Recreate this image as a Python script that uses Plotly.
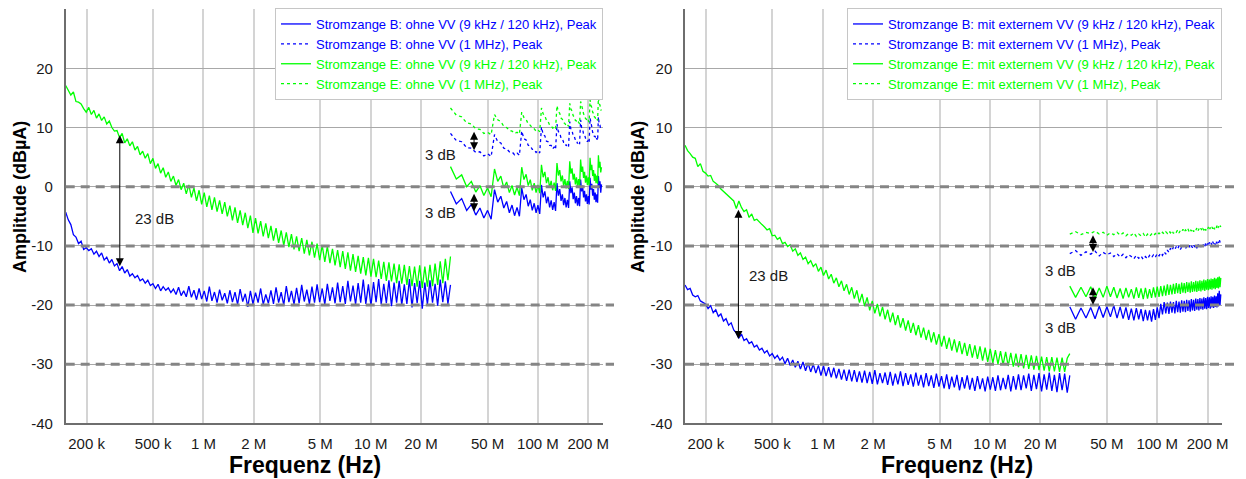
import numpy as np
import plotly.graph_objects as go

# ---------------- data ----------------
# low-frequency sweep (150 kHz .. 30 MHz), 151 log-spaced points
f_lf = np.geomspace(1.5e5, 3.0e7, 151)
# high-frequency sweep (30 MHz .. 240 MHz), 2.5 MHz steps
f_hf = np.arange(30e6, 240e6 + 1, 2.5e6)

# Left chart: ohne VV
b_ohne_lf = [
    -4.3, -5.6, -6.4, -8.1, -8.5, -9.6, -9.2, -10.6, -10.3, -10.8,
    -10.5, -11.4, -10.9, -11.8, -11.2, -12.4, -11.9, -12.9, -12.3, -13.4,
    -13.0, -14.2, -13.5, -14.6, -14.0, -15.1, -14.7, -15.4, -15.0, -15.9,
    -15.6, -16.3, -15.8, -16.7, -16.4, -17.2, -16.5, -17.6, -16.9, -17.5,
    -17.1, -17.9, -17.3, -18.2, -17.0, -18.4, -17.6, -18.6, -16.8, -18.7,
    -17.5, -19.1, -17.2, -19.0, -17.6, -19.4, -16.9, -19.3, -17.8, -19.6,
    -17.4, -19.2, -18.0, -19.7, -17.5, -19.5, -17.8, -19.9, -17.3, -19.4,
    -18.1, -20.3, -17.6, -19.8, -17.9, -19.6, -17.2, -19.9, -18.2, -19.7,
    -17.5, -19.8, -17.0, -19.6, -17.8, -20.0, -16.8, -19.5, -17.6, -19.9,
    -17.1, -19.7, -16.6, -19.4, -17.4, -19.8, -16.9, -19.6, -16.5, -19.5,
    -17.2, -19.9, -16.4, -19.3, -17.0, -19.7, -16.2, -19.5, -16.8, -19.8,
    -15.9, -19.4, -16.7, -19.9, -16.3, -19.6, -15.7, -19.8, -16.5, -20.1,
    -16.1, -19.5, -15.6, -19.9, -16.4, -19.7, -15.8, -20.2, -16.2, -19.6,
    -15.9, -20.0, -16.5, -19.8, -15.6, -20.4, -16.3, -19.7, -15.9, -20.6,
    -16.2, -19.9, -15.8, -19.6, -16.4, -20.1, -15.7, -19.5, -16.0, -19.8,
    -16.6,
]
e_ohne_lf = [
    17.1, 16.2, 15.5, 16.0, 14.4, 14.3, 14.0, 13.2, 12.6, 13.4,
    12.2, 12.9, 11.6, 12.3, 11.2, 11.8, 10.6, 11.1, 10.0, 9.4,
    9.5, 8.3, 9.0, 7.4, 8.1, 6.9, 7.6, 6.2, 6.8, 5.4,
    6.0, 4.8, 5.6, 3.9, 4.8, 3.1, 3.9, 2.3, 3.2, 1.6,
    2.5, 0.9, 1.8, 0.2, 1.2, -0.5, 0.6, -1.2, 0.3, -1.8,
    -0.2, -2.4, -0.6, -3.0, -1.0, -3.4, -1.5, -3.9, -1.8, -4.2,
    -2.3, -4.6, -2.6, -5.0, -3.2, -5.7, -3.5, -6.1, -4.0, -6.5,
    -4.4, -7.0, -4.9, -7.8, -5.3, -7.9, -5.8, -8.4, -6.2, -8.7,
    -6.6, -9.1, -7.0, -9.5, -7.4, -9.9, -7.7, -10.2, -8.0, -10.6,
    -8.4, -10.9, -8.7, -11.3, -9.0, -11.6, -9.3, -12.0, -9.6, -12.4,
    -9.9, -12.7, -10.1, -12.9, -10.5, -13.3, -10.7, -13.6, -10.9, -13.9,
    -11.1, -14.2, -11.4, -14.4, -11.7, -14.7, -11.9, -15.0, -12.0, -15.2,
    -12.2, -15.3, -12.5, -15.6, -12.7, -15.9, -12.8, -16.0, -13.0, -16.3,
    -13.1, -16.4, -13.2, -16.6, -13.4, -16.8, -13.5, -16.9, -13.3, -17.1,
    -13.5, -16.9, -13.2, -16.8, -13.0, -16.6, -12.6, -16.3, -12.2, -15.8,
    -11.8,
]
b_ohne_hf_120k = [
    -0.8, -2.9, -2.0, -4.0, -3.0, -4.8, -3.6, -5.3, -4.0, -5.5,
    -0.5, -2.6, -1.6, -3.6, -2.5, -4.4, -3.1, -4.9, -3.5, -5.0,
    -0.2, -2.2, -1.3, -3.3, -2.2, -4.0, -2.8, -4.4, -3.1, -4.6,
    0.3, -1.8, -0.8, -2.8, -1.7, -3.5, -2.3, -3.9, -2.6, -4.1,
    0.6, -1.5, -0.4, -2.4, -1.3, -3.1, -1.9, -3.5, -2.2, -3.6,
    0.9, -1.1, -0.1, -2.1, -1.0, -2.8, -1.6, -3.2, -1.9, -3.3,
    1.2, -0.8, 0.2, -1.8, -0.7, -2.5, -1.3, -2.9, -1.6, -3.0,
    1.5, -0.5, 0.5, -1.5, -0.4, -2.2, -1.0, -2.6, -1.3, -2.7,
    1.8, -0.2, 0.9, -1.0, 0.4,
]
e_ohne_hf_120k = [
    3.4, 1.3, 2.0, 0.0, 0.9, -0.9, 0.2, -1.5, -0.2, -1.7,
    3.0, 0.9, 1.8, -0.2, 0.8, -1.0, 0.2, -1.4, -0.1, -1.5,
    3.3, 1.2, 2.1, 0.2, 1.2, -0.6, 0.6, -1.0, 0.3, -1.1,
    3.7, 1.6, 2.5, 0.6, 1.6, -0.2, 1.0, -0.6, 0.7, -0.7,
    4.0, 1.9, 2.8, 0.9, 1.9, 0.1, 1.3, -0.3, 1.0, -0.4,
    4.3, 2.2, 3.1, 1.2, 2.2, 0.4, 1.6, 0.0, 1.3, -0.1,
    4.6, 2.5, 3.4, 1.5, 2.5, 0.7, 1.9, 0.3, 1.6, 0.2,
    4.9, 2.8, 3.7, 1.8, 2.8, 1.0, 2.2, 0.6, 1.9, 0.5,
    5.3, 3.2, 4.2, 2.4, 3.3,
]
b_ohne_hf_1m = [
    9.0, 7.8, 7.6, 6.6, 6.5, 5.8, 5.9, 5.2, 5.6, 5.1,
    8.8, 7.6, 7.4, 6.5, 6.4, 5.9, 5.9, 5.4, 5.7, 5.3,
    9.4, 8.1, 7.9, 7.0, 6.9, 6.3, 6.3, 5.8, 6.1, 5.7,
    10.1, 8.8, 8.6, 7.7, 7.6, 7.0, 7.0, 6.4, 6.7, 6.3,
    10.6, 9.3, 9.1, 8.2, 8.1, 7.5, 7.5, 6.9, 7.2, 6.8,
    11.0, 9.7, 9.5, 8.6, 8.5, 7.9, 7.9, 7.3, 7.6, 7.2,
    11.3, 10.0, 9.8, 8.9, 8.8, 8.2, 8.2, 7.6, 7.9, 7.5,
    11.6, 10.3, 10.1, 9.2, 9.1, 8.5, 8.5, 7.9, 8.2, 7.8,
    11.8, 10.5, 10.4, 9.6, 9.5,
]
e_ohne_hf_1m = [
    13.3, 12.1, 11.8, 10.8, 10.6, 9.8, 9.7, 9.0, 9.2, 8.8,
    12.2, 11.3, 11.0, 10.2, 10.0, 9.5, 9.4, 9.0, 9.2, 8.9,
    12.6, 11.7, 11.4, 10.6, 10.4, 9.9, 9.8, 9.4, 9.6, 9.3,
    13.3, 12.3, 12.0, 11.2, 11.0, 10.4, 10.3, 9.9, 10.1, 9.8,
    13.7, 12.7, 12.4, 11.6, 11.4, 10.8, 10.7, 10.3, 10.5, 10.2,
    14.1, 13.1, 12.8, 12.0, 11.8, 11.2, 11.1, 10.7, 10.9, 10.6,
    14.4, 13.4, 13.1, 12.3, 12.1, 11.5, 11.4, 11.0, 11.2, 10.9,
    14.7, 13.7, 13.4, 12.6, 12.4, 11.8, 11.7, 11.3, 11.5, 11.2,
    15.0, 14.0, 13.8, 13.0, 12.9,
]

# Right chart: mit externem VV
b_mit_lf = [
    -16.6, -17.4, -17.2, -18.3, -18.6, -18.4, -19.3, -19.5, -19.8, -20.6,
    -20.1, -21.3, -20.8, -21.9, -21.5, -22.7, -22.3, -23.4, -23.0, -24.2,
    -24.7, -25.6, -24.9, -26.0, -25.7, -26.5, -26.2, -27.1, -26.8, -27.6,
    -27.3, -28.1, -27.7, -28.6, -28.2, -29.0, -28.5, -29.3, -28.8, -29.9,
    -29.0, -30.2, -29.3, -30.5, -29.5, -30.8, -29.6, -31.1, -29.8, -31.3,
    -30.0, -31.5, -30.2, -31.9, -30.3, -32.0, -30.5, -32.2, -30.6, -32.4,
    -30.8, -32.6, -30.9, -32.8, -30.9, -32.9, -31.0, -33.0, -31.2, -33.1,
    -31.1, -33.2, -31.3, -33.3, -31.0, -33.4, -31.5, -33.2, -31.4, -33.5,
    -31.3, -33.6, -31.6, -33.4, -31.2, -33.7, -31.5, -33.5, -31.7, -33.8,
    -31.4, -33.6, -31.8, -33.9, -31.5, -33.7, -31.9, -34.0, -31.6, -33.8,
    -32.0, -34.1, -31.7, -34.2, -32.1, -33.9, -31.8, -34.4, -32.2, -34.1,
    -31.9, -34.3, -32.3, -34.5, -32.0, -34.2, -32.4, -34.6, -32.1, -34.3,
    -32.2, -34.5, -31.9, -34.4, -32.3, -34.2, -31.8, -34.6, -32.0, -34.3,
    -31.7, -34.4, -31.9, -34.1, -31.6, -34.5, -31.8, -34.2, -31.5, -34.6,
    -31.7, -34.3, -31.4, -34.5, -31.8, -34.7, -31.5, -34.4, -31.6, -34.8,
    -31.9,
]
e_mit_lf = [
    7.0, 6.1, 5.6, 5.0, 4.8, 3.4, 3.9, 2.6, 2.3, 1.8,
    1.9, 0.9, 0.6, 0.2, -0.4, -0.8, -1.2, -1.6, -2.1, -2.4,
    -3.7, -2.4, -3.5, -4.2, -3.9, -5.2, -4.6, -5.7, -5.5, -6.0,
    -6.4, -6.8, -7.3, -7.1, -8.3, -8.2, -8.9, -8.6, -9.6, -9.4,
    -10.1, -9.8, -10.9, -10.5, -11.6, -11.2, -12.3, -11.9, -13.0, -12.5,
    -13.5, -13.0, -14.3, -13.6, -15.0, -14.1, -15.6, -14.8, -16.3, -15.4,
    -16.9, -15.9, -17.6, -16.5, -18.2, -17.0, -18.9, -17.5, -19.6, -18.1,
    -20.2, -18.7, -20.9, -19.3, -21.4, -19.8, -21.9, -20.3, -22.4, -20.8,
    -22.9, -21.3, -23.4, -21.7, -23.8, -22.2, -24.3, -22.6, -24.7, -23.0,
    -25.1, -23.4, -25.5, -23.8, -25.9, -24.2, -26.3, -24.6, -26.7, -24.9,
    -27.0, -25.2, -27.4, -25.5, -27.7, -25.8, -28.0, -26.1, -28.3, -26.4,
    -28.6, -26.6, -28.9, -26.8, -29.1, -27.0, -29.4, -27.2, -29.6, -27.4,
    -29.8, -27.6, -30.0, -27.8, -30.1, -27.9, -30.3, -28.1, -30.4, -28.2,
    -30.5, -28.3, -30.7, -28.4, -30.8, -28.5, -30.9, -28.6, -31.0, -28.7,
    -31.1, -28.8, -31.2, -28.8, -31.2, -28.9, -31.3, -28.9, -31.3, -29.0,
    -28.2,
]
b_mit_hf_120k = [
    -20.3, -22.4, -20.5, -22.2, -20.4, -22.3, -20.2, -22.1, -20.3, -22.0,
    -20.1, -22.2, -20.3, -22.3, -20.4, -22.5, -20.6, -22.6, -20.5, -22.4,
    -20.7, -22.7, -20.8, -22.6, -20.9, -22.8, -20.7, -22.5, -20.4, -22.2,
    -19.8, -21.6, -19.5, -21.4, -19.6, -21.5, -19.4, -21.3, -19.5, -21.4,
    -19.3, -21.2, -19.4, -21.3, -19.2, -21.1, -19.3, -21.2, -19.1, -21.0,
    -19.2, -21.1, -19.0, -20.9, -19.1, -21.0, -18.9, -20.8, -19.0, -20.9,
    -18.8, -20.7, -18.9, -20.8, -18.7, -20.6, -18.8, -20.7, -18.6, -20.5,
    -18.7, -20.6, -18.5, -20.4, -18.6, -20.5, -18.4, -20.3, -18.5, -20.4,
    -18.0, -20.2, -17.6, -20.0, -18.2,
]
e_mit_hf_120k = [
    -16.8, -18.7, -17.0, -18.6, -16.9, -18.8, -17.1, -18.7, -16.8, -18.6,
    -17.0, -18.8, -17.2, -18.9, -17.1, -18.7, -17.3, -18.9, -17.0, -18.8,
    -17.2, -19.0, -17.1, -18.9, -17.3, -18.8, -17.0, -18.7, -16.9, -18.6,
    -16.8, -18.5, -16.7, -18.4, -16.5, -18.3, -16.6, -18.2, -16.4, -18.1,
    -16.3, -18.0, -16.4, -18.1, -16.2, -17.9, -16.3, -18.0, -16.1, -17.8,
    -16.2, -17.9, -16.0, -17.8, -16.1, -17.7, -15.9, -17.8, -16.0, -17.6,
    -15.8, -17.7, -15.9, -17.5, -15.7, -17.6, -15.8, -17.4, -15.6, -17.5,
    -15.7, -17.3, -15.5, -17.4, -15.6, -17.2, -15.4, -17.3, -15.5, -17.1,
    -15.3, -17.2, -15.2, -17.0, -15.4,
]
b_mit_hf_1m = [
    -11.3, -10.8, -11.6, -11.0, -11.4, -10.9, -11.7, -11.1, -11.5, -11.2,
    -11.8, -11.3, -11.9, -11.4, -12.0, -11.5, -11.8, -12.2, -11.6, -12.1,
    -11.7, -12.3, -11.8, -12.2, -11.6, -12.0, -11.5, -11.9, -11.3, -11.7,
    -11.2, -11.6, -11.0, -11.4, -10.7, -11.1, -10.4, -10.8, -10.2, -10.6,
    -10.1, -10.5, -10.0, -10.6, -10.2, -10.4, -9.9, -10.5, -10.1, -10.3,
    -9.9, -10.4, -10.0, -10.3, -9.8, -10.2, -9.9, -10.4, -9.7, -10.1,
    -9.8, -10.2, -9.6, -10.0, -9.7, -10.1, -9.5, -9.9, -9.6, -10.0,
    -9.4, -9.8, -9.5, -9.9, -9.3, -9.7, -9.4, -9.8, -9.2, -9.6,
    -9.1, -9.5, -8.9, -9.4, -8.8,
]
e_mit_hf_1m = [
    -8.0, -7.6, -8.1, -7.7, -7.9, -7.5, -8.0, -7.7, -8.2, -7.8,
    -8.1, -7.7, -8.2, -7.8, -8.3, -7.9, -8.2, -7.8, -8.4, -8.0,
    -8.3, -7.9, -8.5, -8.0, -8.4, -8.0, -8.3, -7.9, -8.2, -7.8,
    -8.1, -7.7, -8.0, -7.6, -7.9, -7.5, -7.8, -7.4, -7.9, -7.5,
    -7.7, -7.3, -7.8, -7.4, -7.6, -7.2, -7.7, -7.3, -7.5, -7.1,
    -7.6, -7.2, -7.5, -7.1, -7.6, -7.2, -7.4, -7.0, -7.5, -7.1,
    -7.4, -7.0, -7.5, -7.1, -7.3, -6.9, -7.4, -7.0, -7.2, -6.8,
    -7.3, -6.9, -7.2, -6.8, -7.1, -6.7, -7.2, -6.8, -7.0, -6.6,
    -7.1, -6.7, -6.9, -6.5, -6.8,
]

names_left = [
    "Stromzange B: ohne VV (9 kHz / 120 kHz), Peak",
    "Stromzange B: ohne VV (1 MHz), Peak",
    "Stromzange E: ohne VV (9 kHz / 120 kHz), Peak",
    "Stromzange E: ohne VV (1 MHz), Peak",
]
names_right = [
    "Stromzange B: mit externem VV (9 kHz / 120 kHz), Peak",
    "Stromzange B: mit externem VV (1 MHz), Peak",
    "Stromzange E: mit externem VV (9 kHz / 120 kHz), Peak",
    "Stromzange E: mit externem VV (1 MHz), Peak",
]
tick_vals = [2e5, 5e5, 1e6, 2e6, 5e6, 1e7, 2e7, 5e7, 1e8, 2e8]
tick_text = ["200 k", "500 k", "1 M", "2 M", "5 M", "10 M", "20 M", "50 M", "100 M", "200 M"]
y_ticks = [-40, -30, -20, -10, 0, 10, 20]
y_tick_text = ["-40", "-30", "-20", "-10", "0", "10", "20"]
dashed_levels = [0, -10, -20, -30]

# ---------------- figure ----------------
W, H = 1246, 479
BLUE = "#0000FF"
GREEN = "#00FF00"
FONT = "Liberation Sans, Arial, sans-serif"


def px(x):
    return x / W


def py(y):
    return 1 - y / H


def joined(a_f, a_v, b_f, b_v):
    return list(a_f) + [None] + list(b_f), list(a_v) + [None] + list(b_v)


def cname(text, color):
    return f'<span style="color:{color}">{text}</span>'


fig = go.Figure()

panels = [
    ("x", "y", "legend", names_left,
     (b_ohne_lf, b_ohne_hf_120k, b_ohne_hf_1m, e_ohne_lf, e_ohne_hf_120k, e_ohne_hf_1m)),
    ("x2", "y2", "legend2", names_right,
     (b_mit_lf, b_mit_hf_120k, b_mit_hf_1m, e_mit_lf, e_mit_hf_120k, e_mit_hf_1m)),
]
for xa, ya, lg, names, (b_lf, b_hf, b_1m, e_lf, e_hf, e_1m) in panels:
    xs, ys = joined(f_lf, b_lf, f_hf, b_hf)
    fig.add_trace(go.Scatter(x=xs, y=ys, mode="lines", name=cname(names[0], BLUE),
                             line=dict(color=BLUE, width=1.3), xaxis=xa, yaxis=ya, legend=lg,
                             connectgaps=False))
    fig.add_trace(go.Scatter(x=f_hf, y=b_1m, mode="lines", name=cname(names[1], BLUE),
                             line=dict(color=BLUE, width=1.3, dash="dot"), xaxis=xa, yaxis=ya, legend=lg))
    xs, ys = joined(f_lf, e_lf, f_hf, e_hf)
    fig.add_trace(go.Scatter(x=xs, y=ys, mode="lines", name=cname(names[2], GREEN),
                             line=dict(color=GREEN, width=1.3), xaxis=xa, yaxis=ya, legend=lg,
                             connectgaps=False))
    fig.add_trace(go.Scatter(x=f_hf, y=e_1m, mode="lines", name=cname(names[3], GREEN),
                             line=dict(color=GREEN, width=1.3, dash="dot"), xaxis=xa, yaxis=ya, legend=lg))

xr = [np.log10(1.5e5), np.log10(2.45e8)]
xaxis_common = dict(type="log", range=xr, tickvals=tick_vals, ticktext=tick_text,
                    showgrid=True, gridcolor="#d4d4d4", gridwidth=1.5,
                    showline=True, linecolor="#6e6e6e", linewidth=1.5,
                    ticks="", zeroline=False, ticklabelstandoff=6, automargin=False,
                    tickfont=dict(family=FONT, size=15, color="#1a1a1a"))
yaxis_common = dict(range=[-40, 30], tickvals=y_ticks, ticktext=y_tick_text, showgrid=True,
                    gridcolor="#a8a8a8", gridwidth=1, showline=True, linecolor="#6e6e6e",
                    linewidth=1.5, ticks="", zeroline=False, ticklabelstandoff=8, automargin=False,
                    tickfont=dict(family=FONT, size=15, color="#1a1a1a"))

y_dom = [1 - 423.4 / H, 1 - 9.2 / H]
fig.update_layout(
    width=W, height=H,
    margin=dict(l=0, r=0, t=0, b=0, autoexpand=False),
    paper_bgcolor="white", plot_bgcolor="white",
    font=dict(family=FONT),
    xaxis=dict(domain=[px(65.7), px(603)], anchor="y", **xaxis_common),
    yaxis=dict(domain=y_dom, anchor="x", **yaxis_common),
    xaxis2=dict(domain=[px(685), px(1222.3)], anchor="y2", **xaxis_common),
    yaxis2=dict(domain=y_dom, anchor="x2", **yaxis_common),
    legend=dict(x=px(603), y=py(8), xanchor="right", yanchor="top",
                bgcolor="white", bordercolor="#c6c6c6", borderwidth=1,
                font=dict(family=FONT, size=13), itemwidth=30, tracegroupgap=0),
    legend2=dict(x=px(1222), y=py(8), xanchor="right", yanchor="top",
                 bgcolor="white", bordercolor="#c6c6c6", borderwidth=1,
                 font=dict(family=FONT, size=13), itemwidth=30, tracegroupgap=0),
    showlegend=True,
)

# dashed reference lines (extend slightly past the plot area)
shapes = []
for lvl in dashed_levels:
    shapes.append(dict(type="line", xref="paper", yref="y", x0=px(65.7), x1=px(614),
                       y0=lvl, y1=lvl, line=dict(color="#858585", width=3, dash="9px,6px"),
                       layer="above"))
    shapes.append(dict(type="line", xref="paper", yref="y2", x0=px(685), x1=px(1234),
                       y0=lvl, y1=lvl, line=dict(color="#858585", width=3, dash="9px,6px"),
                       layer="above"))
fig.update_layout(shapes=shapes)

ann = []
# axis titles
for xc in (305, 957):
    ann.append(dict(text="<b>Frequenz (Hz)</b>", x=px(xc), y=py(465), xref="paper", yref="paper",
                    showarrow=False, xanchor="center", yanchor="middle",
                    font=dict(family=FONT, size=23, color="black")))
for xc in (20, 638):
    ann.append(dict(text="<b>Amplitude (dBµA)</b>", x=px(xc), y=py(197), xref="paper", yref="paper",
                    showarrow=False, textangle=-90, xanchor="center", yanchor="middle",
                    font=dict(family=FONT, size=18, color="black")))


def darrow(xa, ya, f, y_top, y_bot):
    lx = float(np.log10(f))
    return dict(x=lx, y=y_top, ax=lx, ay=y_bot, xref=xa, yref=ya, axref=xa, ayref=ya,
                text="", showarrow=True, arrowhead=2, startarrowhead=2, arrowside="end+start",
                arrowsize=1.6, arrowwidth=1, arrowcolor="black", standoff=0, startstandoff=0)


ann.append(darrow("x", "y", 3.16e5, 8.7, -13.7))
ann.append(darrow("x", "y", 4.15e7, 9.3, 5.9))
ann.append(darrow("x", "y", 4.15e7, -1.2, -4.4))
ann.append(darrow("x2", "y2", 3.13e5, -3.9, -26.0))
ann.append(darrow("x2", "y2", 4.13e7, -8.2, -11.3))
ann.append(darrow("x2", "y2", 4.13e7, -17.0, -20.2))

for txt, xc, yc in [("23 dB", 154, 218), ("23 dB", 768, 275),
                    ("3 dB", 441, 154), ("3 dB", 441, 212),
                    ("3 dB", 1060, 270), ("3 dB", 1060, 327)]:
    ann.append(dict(text=txt, x=px(xc), y=py(yc), xref="paper", yref="paper", showarrow=False,
                    xanchor="center", yanchor="middle",
                    font=dict(family=FONT, size=15, color="#1a1a1a")))

fig.update_layout(annotations=ann)

fig.write_html("out.html",
               config={"displayModeBar": False},
               post_script="document.body.style.margin='0';document.body.style.padding='0';"
                           "document.documentElement.style.overflow='hidden';")
